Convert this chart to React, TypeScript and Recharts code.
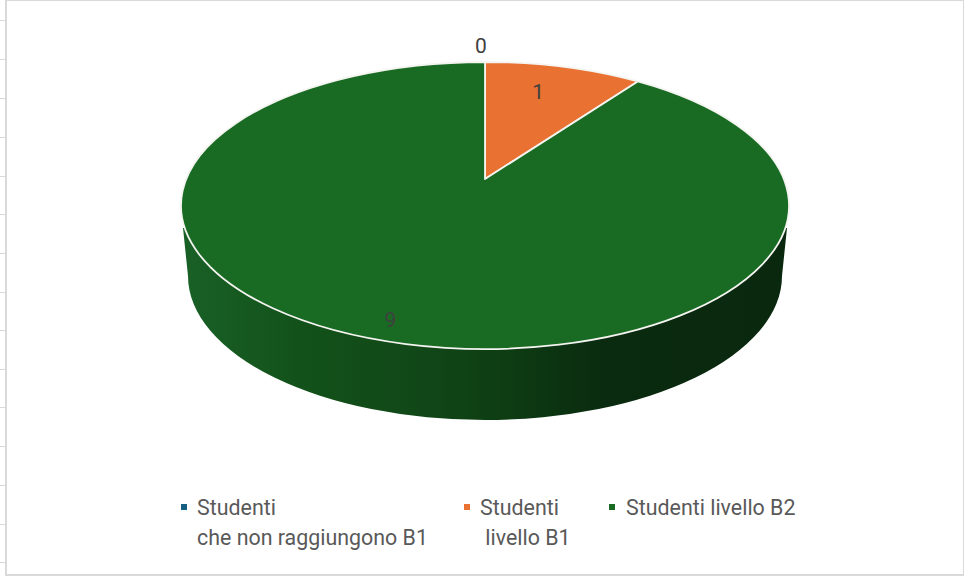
import { PieChart, Pie, Legend } from 'recharts';

const categories = ['Studenti\nche non raggiungono B1', 'Studenti\n livello B1', 'Studenti livello B2'];
const students = [0, 1, 9];
const sliceColors = ['#156082', '#E97132', '#196B24'];
const labelReach = [1.17, 0.75, 0.9];
const labelShift = [-4, -8, 4];
const sheetRows = [20, 59, 98, 137, 176, 214, 253, 292, 330, 369, 407, 446, 485, 524, 562];

const data = categories.map((name, i) => ({ name, value: students[i], fill: sliceColors[i] }));

const RAD = Math.PI / 180;
const CX = 485;
const APEX_Y = 179;
const RADIUS = 298.8;
// the pie is tilted with perspective, so its centre sits above the middle of the ellipse
const PERSP = -0.1847;
const DEPTH_Y = 105.55;
const TOP_RX = 304;
const TOP_RY = 143.5;
const BASE_RX = 297;
const BASE_RY = 144;
const BASE_CY = 276;
const WALL_START_Y = 228;
const WALL_START_DX = 302;

function project(cx: number, cy: number, radius: number, angle: number, reach = 1) {
  const u = Math.cos(angle * RAD) * reach;
  const v = -Math.sin(angle * RAD) * reach;
  const d = 1 + PERSP * v;
  return { x: cx + (radius * u) / d, y: (DEPTH_Y * v + cy) / d };
}

function Slice(props: any) {
  const { cx, cy, outerRadius, startAngle, endAngle, fill } = props;
  const span = Math.abs(endAngle - startAngle);
  if (span === 0) return <g />;
  const a = project(cx, cy, outerRadius, startAngle);
  const b = project(cx, cy, outerRadius, endAngle);
  const large = span > 180 ? 1 : 0;
  const top = `M${cx},${cy} L${a.x},${a.y} A${TOP_RX},${TOP_RY} 0 ${large} 1 ${b.x},${b.y} Z`;
  // only the slice that holds the front of the pie shows a side wall
  const front = startAngle >= -90 && endAngle <= -90;
  const dx = WALL_START_DX;
  const wall = `M${cx + dx},${WALL_START_Y} L${cx + BASE_RX},${BASE_CY} A${BASE_RX},${BASE_RY} 0 0 1 ${cx - BASE_RX},${BASE_CY} L${cx - dx},${WALL_START_Y} Z`;
  return (
    <g>
      {front && (
        <>
          <defs>
            <linearGradient id="wallShade" gradientUnits="userSpaceOnUse" x1={188} y1={0} x2={782} y2={0}>
              <stop offset="0" stopColor="#196026" />
              <stop offset="0.2" stopColor="#125119" />
              <stop offset="0.38" stopColor="#114818" />
              <stop offset="0.52" stopColor="#0e3e13" />
              <stop offset="0.7" stopColor="#0a2b0f" />
              <stop offset="1" stopColor="#0a280e" />
            </linearGradient>
          </defs>
          <path d={wall} fill="url(#wallShade)" />
        </>
      )}
      <path d={top} fill={fill} stroke="#f4f4f0" strokeWidth={1.8} strokeLinejoin="round" />
    </g>
  );
}

function SliceLabel(props: any) {
  const { cx, cy, outerRadius, midAngle, value, index } = props;
  const p = project(cx, cy, outerRadius, midAngle, labelReach[index]);
  return (
    <text
      x={p.x + labelShift[index]}
      y={p.y}
      textAnchor="middle"
      dominantBaseline="central"
      fill="#404040"
      fontSize={21}
      fontFamily="Roboto, sans-serif"
    >
      {value}
    </text>
  );
}

const legendMarkerX = [181, 464, 609];
const legendTextX = [197, 480, 626];

function LegendRows({ payload }: any) {
  return (
    <div style={{ position: 'relative', width: 964, height: 70 }}>
      {(payload || []).map((entry: any, i: number) => (
        <div key={i}>
          <div
            style={{
              position: 'absolute',
              left: legendMarkerX[i],
              top: 14,
              width: 6,
              height: 6,
              background: entry.color,
            }}
          />
          <div
            style={{
              position: 'absolute',
              left: legendTextX[i],
              top: 3,
              whiteSpace: 'pre',
              color: '#595959',
              fontFamily: 'Roboto, sans-serif',
              fontSize: 21.4,
              lineHeight: '30px',
            }}
          >
            {entry.value}
          </div>
        </div>
      ))}
    </div>
  );
}

export default function App() {
  return (
    <div style={{ position: 'absolute', left: 0, top: 0, width: 964, height: 576, overflow: 'hidden', background: '#fff' }}>
      {sheetRows.map((y) => (
        <div key={y} style={{ position: 'absolute', left: 0, top: y, width: 6, height: 1, background: '#d9d9d9' }} />
      ))}
      <div
        style={{
          position: 'absolute',
          left: 5,
          top: -1,
          width: 960,
          height: 577,
          boxSizing: 'border-box',
          border: '2px solid #d9d9d9',
        }}
      />
      <div style={{ position: 'absolute', left: 0, top: 0 }}>
        <PieChart width={964} height={576} margin={{ top: 0, right: 0, bottom: 0, left: 0 }}>
          <Pie
            data={data}
            dataKey="value"
            nameKey="name"
            cx={CX}
            cy={APEX_Y}
            outerRadius={RADIUS}
            startAngle={90}
            endAngle={-270}
            stroke="none"
            shape={Slice}
            label={SliceLabel}
            labelLine={false}
            isAnimationActive={false}
          />
          <Legend content={LegendRows} itemSorter={null} wrapperStyle={{ left: 0, top: 490, width: 964 }} />
        </PieChart>
      </div>
    </div>
  );
}
